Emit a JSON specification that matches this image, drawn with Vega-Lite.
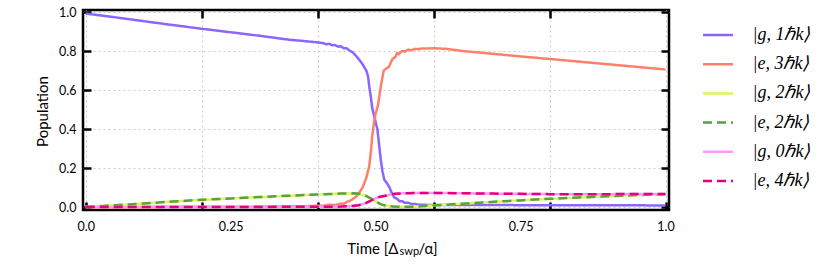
{
  "$schema": "https://vega.github.io/schema/vega-lite/v6.json",
  "width": 586,
  "height": 200,
  "autosize": {"type": "none"},
  "padding": {"left": 83, "top": 10, "right": 161, "bottom": 58},
  "background": "white",
  "config": {
    "view": {"stroke": "black", "strokeWidth": 2.5},
    "font": "Lato",
    "axis": {
      "domain": false,
      "labelFont": "Lato",
      "labelFontSize": 12.5,
      "labelColor": "black",
      "titleFont": "Lato",
      "titleFontWeight": "normal",
      "titleColor": "black",
      "titleFontSize": 15,
      "gridColor": "#c5cfcf",
      "gridDash": [2, 3],
      "gridWidth": 1,
      "gridOpacity": 1,
      "tickColor": "black",
      "tickWidth": 2.5
    }
  },
  "datasets": {
    "curves": [
      {"s": "|g, 1ℏk⟩", "t": 0, "p": 0.993},
      {"s": "|g, 1ℏk⟩", "t": 0.05, "p": 0.974},
      {"s": "|g, 1ℏk⟩", "t": 0.1, "p": 0.954},
      {"s": "|g, 1ℏk⟩", "t": 0.15, "p": 0.934},
      {"s": "|g, 1ℏk⟩", "t": 0.2, "p": 0.915},
      {"s": "|g, 1ℏk⟩", "t": 0.25, "p": 0.897},
      {"s": "|g, 1ℏk⟩", "t": 0.3, "p": 0.879},
      {"s": "|g, 1ℏk⟩", "t": 0.35, "p": 0.859},
      {"s": "|g, 1ℏk⟩", "t": 0.38, "p": 0.851},
      {"s": "|g, 1ℏk⟩", "t": 0.4, "p": 0.845},
      {"s": "|g, 1ℏk⟩", "t": 0.41, "p": 0.841},
      {"s": "|g, 1ℏk⟩", "t": 0.415, "p": 0.835},
      {"s": "|g, 1ℏk⟩", "t": 0.42, "p": 0.838},
      {"s": "|g, 1ℏk⟩", "t": 0.425, "p": 0.83},
      {"s": "|g, 1ℏk⟩", "t": 0.43, "p": 0.832},
      {"s": "|g, 1ℏk⟩", "t": 0.435, "p": 0.823},
      {"s": "|g, 1ℏk⟩", "t": 0.44, "p": 0.825},
      {"s": "|g, 1ℏk⟩", "t": 0.445, "p": 0.815},
      {"s": "|g, 1ℏk⟩", "t": 0.45, "p": 0.815},
      {"s": "|g, 1ℏk⟩", "t": 0.455, "p": 0.803},
      {"s": "|g, 1ℏk⟩", "t": 0.46, "p": 0.795},
      {"s": "|g, 1ℏk⟩", "t": 0.465, "p": 0.78},
      {"s": "|g, 1ℏk⟩", "t": 0.472, "p": 0.755},
      {"s": "|g, 1ℏk⟩", "t": 0.478, "p": 0.73},
      {"s": "|g, 1ℏk⟩", "t": 0.484, "p": 0.7},
      {"s": "|g, 1ℏk⟩", "t": 0.487, "p": 0.67},
      {"s": "|g, 1ℏk⟩", "t": 0.489, "p": 0.62},
      {"s": "|g, 1ℏk⟩", "t": 0.492, "p": 0.56},
      {"s": "|g, 1ℏk⟩", "t": 0.494, "p": 0.51},
      {"s": "|g, 1ℏk⟩", "t": 0.498, "p": 0.46},
      {"s": "|g, 1ℏk⟩", "t": 0.503, "p": 0.4},
      {"s": "|g, 1ℏk⟩", "t": 0.506, "p": 0.32},
      {"s": "|g, 1ℏk⟩", "t": 0.509, "p": 0.24},
      {"s": "|g, 1ℏk⟩", "t": 0.512, "p": 0.18},
      {"s": "|g, 1ℏk⟩", "t": 0.515, "p": 0.14},
      {"s": "|g, 1ℏk⟩", "t": 0.52, "p": 0.12},
      {"s": "|g, 1ℏk⟩", "t": 0.524, "p": 0.1},
      {"s": "|g, 1ℏk⟩", "t": 0.528, "p": 0.07},
      {"s": "|g, 1ℏk⟩", "t": 0.532, "p": 0.05},
      {"s": "|g, 1ℏk⟩", "t": 0.537, "p": 0.042},
      {"s": "|g, 1ℏk⟩", "t": 0.541, "p": 0.03},
      {"s": "|g, 1ℏk⟩", "t": 0.546, "p": 0.03},
      {"s": "|g, 1ℏk⟩", "t": 0.55, "p": 0.022},
      {"s": "|g, 1ℏk⟩", "t": 0.556, "p": 0.022},
      {"s": "|g, 1ℏk⟩", "t": 0.562, "p": 0.016},
      {"s": "|g, 1ℏk⟩", "t": 0.568, "p": 0.016},
      {"s": "|g, 1ℏk⟩", "t": 0.574, "p": 0.012},
      {"s": "|g, 1ℏk⟩", "t": 0.6, "p": 0.01},
      {"s": "|g, 1ℏk⟩", "t": 0.7, "p": 0.01},
      {"s": "|g, 1ℏk⟩", "t": 0.8, "p": 0.009},
      {"s": "|g, 1ℏk⟩", "t": 0.9, "p": 0.009},
      {"s": "|g, 1ℏk⟩", "t": 1.0, "p": 0.008},

      {"s": "|e, 3ℏk⟩", "t": 0, "p": 0.0},
      {"s": "|e, 3ℏk⟩", "t": 0.2, "p": 0.001},
      {"s": "|e, 3ℏk⟩", "t": 0.3, "p": 0.002},
      {"s": "|e, 3ℏk⟩", "t": 0.35, "p": 0.003},
      {"s": "|e, 3ℏk⟩", "t": 0.38, "p": 0.004},
      {"s": "|e, 3ℏk⟩", "t": 0.4, "p": 0.007},
      {"s": "|e, 3ℏk⟩", "t": 0.41, "p": 0.006},
      {"s": "|e, 3ℏk⟩", "t": 0.42, "p": 0.012},
      {"s": "|e, 3ℏk⟩", "t": 0.43, "p": 0.01},
      {"s": "|e, 3ℏk⟩", "t": 0.44, "p": 0.018},
      {"s": "|e, 3ℏk⟩", "t": 0.445, "p": 0.016},
      {"s": "|e, 3ℏk⟩", "t": 0.45, "p": 0.026},
      {"s": "|e, 3ℏk⟩", "t": 0.455, "p": 0.03},
      {"s": "|e, 3ℏk⟩", "t": 0.46, "p": 0.04},
      {"s": "|e, 3ℏk⟩", "t": 0.465, "p": 0.05},
      {"s": "|e, 3ℏk⟩", "t": 0.47, "p": 0.065},
      {"s": "|e, 3ℏk⟩", "t": 0.4775, "p": 0.1},
      {"s": "|e, 3ℏk⟩", "t": 0.484, "p": 0.15},
      {"s": "|e, 3ℏk⟩", "t": 0.489, "p": 0.21},
      {"s": "|e, 3ℏk⟩", "t": 0.492, "p": 0.29},
      {"s": "|e, 3ℏk⟩", "t": 0.494, "p": 0.36},
      {"s": "|e, 3ℏk⟩", "t": 0.497, "p": 0.43},
      {"s": "|e, 3ℏk⟩", "t": 0.5, "p": 0.48},
      {"s": "|e, 3ℏk⟩", "t": 0.504, "p": 0.52},
      {"s": "|e, 3ℏk⟩", "t": 0.507, "p": 0.58},
      {"s": "|e, 3ℏk⟩", "t": 0.509, "p": 0.62},
      {"s": "|e, 3ℏk⟩", "t": 0.512, "p": 0.67},
      {"s": "|e, 3ℏk⟩", "t": 0.514, "p": 0.7},
      {"s": "|e, 3ℏk⟩", "t": 0.518, "p": 0.71},
      {"s": "|e, 3ℏk⟩", "t": 0.523, "p": 0.72},
      {"s": "|e, 3ℏk⟩", "t": 0.526, "p": 0.74},
      {"s": "|e, 3ℏk⟩", "t": 0.529, "p": 0.76},
      {"s": "|e, 3ℏk⟩", "t": 0.532, "p": 0.765},
      {"s": "|e, 3ℏk⟩", "t": 0.535, "p": 0.775},
      {"s": "|e, 3ℏk⟩", "t": 0.537, "p": 0.79},
      {"s": "|e, 3ℏk⟩", "t": 0.54, "p": 0.785},
      {"s": "|e, 3ℏk⟩", "t": 0.545, "p": 0.8},
      {"s": "|e, 3ℏk⟩", "t": 0.551, "p": 0.798},
      {"s": "|e, 3ℏk⟩", "t": 0.556, "p": 0.808},
      {"s": "|e, 3ℏk⟩", "t": 0.562, "p": 0.805},
      {"s": "|e, 3ℏk⟩", "t": 0.568, "p": 0.812},
      {"s": "|e, 3ℏk⟩", "t": 0.574, "p": 0.81},
      {"s": "|e, 3ℏk⟩", "t": 0.58, "p": 0.814},
      {"s": "|e, 3ℏk⟩", "t": 0.59, "p": 0.814},
      {"s": "|e, 3ℏk⟩", "t": 0.6, "p": 0.815},
      {"s": "|e, 3ℏk⟩", "t": 0.62, "p": 0.812},
      {"s": "|e, 3ℏk⟩", "t": 0.65, "p": 0.801},
      {"s": "|e, 3ℏk⟩", "t": 0.7, "p": 0.787},
      {"s": "|e, 3ℏk⟩", "t": 0.75, "p": 0.773},
      {"s": "|e, 3ℏk⟩", "t": 0.8, "p": 0.76},
      {"s": "|e, 3ℏk⟩", "t": 0.9, "p": 0.733},
      {"s": "|e, 3ℏk⟩", "t": 1.0, "p": 0.706},

      {"s": "|g, 2ℏk⟩", "t": 0, "p": 0},
      {"s": "|g, 2ℏk⟩", "t": 0.05, "p": 0.009},
      {"s": "|g, 2ℏk⟩", "t": 0.1, "p": 0.018},
      {"s": "|g, 2ℏk⟩", "t": 0.15, "p": 0.028},
      {"s": "|g, 2ℏk⟩", "t": 0.2, "p": 0.037},
      {"s": "|g, 2ℏk⟩", "t": 0.25, "p": 0.044},
      {"s": "|g, 2ℏk⟩", "t": 0.3, "p": 0.051},
      {"s": "|g, 2ℏk⟩", "t": 0.35, "p": 0.058},
      {"s": "|g, 2ℏk⟩", "t": 0.4, "p": 0.064},
      {"s": "|g, 2ℏk⟩", "t": 0.44, "p": 0.069},
      {"s": "|g, 2ℏk⟩", "t": 0.46, "p": 0.07},
      {"s": "|g, 2ℏk⟩", "t": 0.47, "p": 0.069},
      {"s": "|g, 2ℏk⟩", "t": 0.477, "p": 0.063},
      {"s": "|g, 2ℏk⟩", "t": 0.485, "p": 0.055},
      {"s": "|g, 2ℏk⟩", "t": 0.494, "p": 0.04},
      {"s": "|g, 2ℏk⟩", "t": 0.5, "p": 0.03},
      {"s": "|g, 2ℏk⟩", "t": 0.505, "p": 0.02},
      {"s": "|g, 2ℏk⟩", "t": 0.511, "p": 0.012},
      {"s": "|g, 2ℏk⟩", "t": 0.52, "p": 0.006},
      {"s": "|g, 2ℏk⟩", "t": 0.53, "p": 0.003},
      {"s": "|g, 2ℏk⟩", "t": 0.55, "p": 0.001},
      {"s": "|g, 2ℏk⟩", "t": 0.57, "p": 0.002},
      {"s": "|g, 2ℏk⟩", "t": 0.6, "p": 0.008},
      {"s": "|g, 2ℏk⟩", "t": 0.65, "p": 0.017},
      {"s": "|g, 2ℏk⟩", "t": 0.7, "p": 0.026},
      {"s": "|g, 2ℏk⟩", "t": 0.75, "p": 0.034},
      {"s": "|g, 2ℏk⟩", "t": 0.8, "p": 0.042},
      {"s": "|g, 2ℏk⟩", "t": 0.85, "p": 0.049},
      {"s": "|g, 2ℏk⟩", "t": 0.9, "p": 0.055},
      {"s": "|g, 2ℏk⟩", "t": 0.95, "p": 0.061},
      {"s": "|g, 2ℏk⟩", "t": 1.0, "p": 0.066},

      {"s": "|e, 2ℏk⟩", "t": 0, "p": 0},
      {"s": "|e, 2ℏk⟩", "t": 0.05, "p": 0.009},
      {"s": "|e, 2ℏk⟩", "t": 0.1, "p": 0.018},
      {"s": "|e, 2ℏk⟩", "t": 0.15, "p": 0.028},
      {"s": "|e, 2ℏk⟩", "t": 0.2, "p": 0.037},
      {"s": "|e, 2ℏk⟩", "t": 0.25, "p": 0.044},
      {"s": "|e, 2ℏk⟩", "t": 0.3, "p": 0.051},
      {"s": "|e, 2ℏk⟩", "t": 0.35, "p": 0.058},
      {"s": "|e, 2ℏk⟩", "t": 0.4, "p": 0.064},
      {"s": "|e, 2ℏk⟩", "t": 0.44, "p": 0.069},
      {"s": "|e, 2ℏk⟩", "t": 0.46, "p": 0.07},
      {"s": "|e, 2ℏk⟩", "t": 0.47, "p": 0.069},
      {"s": "|e, 2ℏk⟩", "t": 0.477, "p": 0.063},
      {"s": "|e, 2ℏk⟩", "t": 0.485, "p": 0.055},
      {"s": "|e, 2ℏk⟩", "t": 0.494, "p": 0.04},
      {"s": "|e, 2ℏk⟩", "t": 0.5, "p": 0.03},
      {"s": "|e, 2ℏk⟩", "t": 0.505, "p": 0.02},
      {"s": "|e, 2ℏk⟩", "t": 0.511, "p": 0.012},
      {"s": "|e, 2ℏk⟩", "t": 0.52, "p": 0.006},
      {"s": "|e, 2ℏk⟩", "t": 0.53, "p": 0.003},
      {"s": "|e, 2ℏk⟩", "t": 0.55, "p": 0.001},
      {"s": "|e, 2ℏk⟩", "t": 0.57, "p": 0.002},
      {"s": "|e, 2ℏk⟩", "t": 0.6, "p": 0.008},
      {"s": "|e, 2ℏk⟩", "t": 0.65, "p": 0.017},
      {"s": "|e, 2ℏk⟩", "t": 0.7, "p": 0.026},
      {"s": "|e, 2ℏk⟩", "t": 0.75, "p": 0.034},
      {"s": "|e, 2ℏk⟩", "t": 0.8, "p": 0.042},
      {"s": "|e, 2ℏk⟩", "t": 0.85, "p": 0.049},
      {"s": "|e, 2ℏk⟩", "t": 0.9, "p": 0.055},
      {"s": "|e, 2ℏk⟩", "t": 0.95, "p": 0.061},
      {"s": "|e, 2ℏk⟩", "t": 1.0, "p": 0.066},

      {"s": "|g, 0ℏk⟩", "t": 0, "p": 0},
      {"s": "|g, 0ℏk⟩", "t": 0.2, "p": 0},
      {"s": "|g, 0ℏk⟩", "t": 0.4, "p": 0.001},
      {"s": "|g, 0ℏk⟩", "t": 0.44, "p": 0.002},
      {"s": "|g, 0ℏk⟩", "t": 0.46, "p": 0.005},
      {"s": "|g, 0ℏk⟩", "t": 0.47, "p": 0.009},
      {"s": "|g, 0ℏk⟩", "t": 0.478, "p": 0.014},
      {"s": "|g, 0ℏk⟩", "t": 0.483, "p": 0.02},
      {"s": "|g, 0ℏk⟩", "t": 0.49, "p": 0.03},
      {"s": "|g, 0ℏk⟩", "t": 0.5, "p": 0.045},
      {"s": "|g, 0ℏk⟩", "t": 0.508, "p": 0.053},
      {"s": "|g, 0ℏk⟩", "t": 0.517, "p": 0.058},
      {"s": "|g, 0ℏk⟩", "t": 0.525, "p": 0.064},
      {"s": "|g, 0ℏk⟩", "t": 0.534, "p": 0.068},
      {"s": "|g, 0ℏk⟩", "t": 0.55, "p": 0.071},
      {"s": "|g, 0ℏk⟩", "t": 0.6, "p": 0.072},
      {"s": "|g, 0ℏk⟩", "t": 0.7, "p": 0.069},
      {"s": "|g, 0ℏk⟩", "t": 0.8, "p": 0.066},
      {"s": "|g, 0ℏk⟩", "t": 0.9, "p": 0.066},
      {"s": "|g, 0ℏk⟩", "t": 1.0, "p": 0.067},

      {"s": "|e, 4ℏk⟩", "t": 0, "p": 0},
      {"s": "|e, 4ℏk⟩", "t": 0.2, "p": 0},
      {"s": "|e, 4ℏk⟩", "t": 0.4, "p": 0.001},
      {"s": "|e, 4ℏk⟩", "t": 0.44, "p": 0.002},
      {"s": "|e, 4ℏk⟩", "t": 0.46, "p": 0.005},
      {"s": "|e, 4ℏk⟩", "t": 0.47, "p": 0.009},
      {"s": "|e, 4ℏk⟩", "t": 0.478, "p": 0.014},
      {"s": "|e, 4ℏk⟩", "t": 0.483, "p": 0.02},
      {"s": "|e, 4ℏk⟩", "t": 0.49, "p": 0.03},
      {"s": "|e, 4ℏk⟩", "t": 0.5, "p": 0.045},
      {"s": "|e, 4ℏk⟩", "t": 0.508, "p": 0.053},
      {"s": "|e, 4ℏk⟩", "t": 0.517, "p": 0.058},
      {"s": "|e, 4ℏk⟩", "t": 0.525, "p": 0.064},
      {"s": "|e, 4ℏk⟩", "t": 0.534, "p": 0.068},
      {"s": "|e, 4ℏk⟩", "t": 0.55, "p": 0.071},
      {"s": "|e, 4ℏk⟩", "t": 0.6, "p": 0.072},
      {"s": "|e, 4ℏk⟩", "t": 0.7, "p": 0.069},
      {"s": "|e, 4ℏk⟩", "t": 0.8, "p": 0.066},
      {"s": "|e, 4ℏk⟩", "t": 0.9, "p": 0.066},
      {"s": "|e, 4ℏk⟩", "t": 1.0, "p": 0.067}
    ]
  },
  "data": {"name": "curves"},
  "resolve": {"axis": {"x": "independent", "y": "independent"}},
  "layer": [
    {
      "mark": {"type": "line", "strokeWidth": 2.5, "strokeCap": "butt"},
      "encoding": {
        "x": {
          "field": "t", "type": "quantitative",
          "scale": {"domain": [-0.0047, 1.006], "nice": false, "zero": false},
          "axis": {
            "orient": "bottom", "values": [0, 0.25, 0.5, 0.75, 1],
            "labelExpr": "datum.value == 0 ? '0.0' : datum.value == 1 ? '1.0' : format(datum.value, '.2f')",
            "ticks": false, "grid": false, "labelPadding": 10, "labelFlush": false,
            "title": "Time  [Δ", "titleAlign": "right", "titleX": 315, "titleY": 43,
            "titleBaseline": "alphabetic"
          }
        },
        "y": {
          "field": "p", "type": "quantitative",
          "scale": {"domain": [-0.0154, 1.0113], "nice": false, "zero": false},
          "axis": {
            "orient": "left", "values": [0, 0.2, 0.4, 0.6, 0.8, 1], "format": ".1f",
            "ticks": false, "grid": true, "labelPadding": 7,
            "title": "Population", "titleX": -36, "titleY": 101, "titleAngle": -90,
            "titleAlign": "center", "titleBaseline": "alphabetic"
          }
        },
        "color": {
          "field": "s", "type": "nominal",
          "scale": {
            "domain": ["|g, 1ℏk⟩", "|e, 3ℏk⟩", "|g, 2ℏk⟩", "|e, 2ℏk⟩", "|g, 0ℏk⟩", "|e, 4ℏk⟩"],
            "range": ["#8c64ff", "#ff8068", "#ddf55a", "#5aa046", "#ff99f7", "#e6007a"]
          },
          "legend": {
            "orient": "none", "legendX": 618.5, "legendY": 8.5, "title": null,
            "symbolType": "stroke", "symbolSize": 900, "symbolStrokeWidth": 2.5,
            "labelFont": "Liberation Serif", "labelFontStyle": "italic", "labelFontSize": 18,
            "labelColor": "black", "labelOffset": 18, "rowPadding": 3.2, "padding": 0
          }
        },
        "strokeDash": {
          "field": "s", "type": "nominal",
          "scale": {
            "domain": ["|g, 1ℏk⟩", "|e, 3ℏk⟩", "|g, 2ℏk⟩", "|e, 2ℏk⟩", "|g, 0ℏk⟩", "|e, 4ℏk⟩"],
            "range": [[1, 0], [1, 0], [1, 0], [9, 5], [1, 0], [9, 5]]
          },
          "legend": {
            "orient": "none", "legendX": 618.5, "legendY": 8.5, "title": null,
            "symbolType": "stroke", "symbolSize": 900, "symbolStrokeWidth": 2.5,
            "labelFont": "Liberation Serif", "labelFontStyle": "italic", "labelFontSize": 18,
            "labelColor": "black", "labelOffset": 18, "rowPadding": 3.2, "padding": 0
          }
        }
      }
    },
    {
      "mark": {"type": "point", "opacity": 0, "size": 1},
      "encoding": {
        "x": {
          "field": "t", "type": "quantitative",
          "axis": {
            "orient": "bottom", "values": [0, 0.2, 0.4, 0.6, 0.8, 1], "labels": false, "grid": true,
            "tickSize": -8, "tickOpacity": 1,
            "title": "swp", "titleFontSize": 11, "titleAlign": "left", "titleX": 316, "titleY": 44,
            "titleBaseline": "alphabetic"
          }
        },
        "y": {
          "field": "p", "type": "quantitative",
          "axis": {
            "orient": "left", "values": [0, 0.2, 0.4, 0.6, 0.8, 1], "labels": false, "grid": false,
            "tickSize": -8, "title": null
          }
        }
      }
    },
    {
      "mark": {"type": "point", "opacity": 0, "size": 1},
      "encoding": {
        "x": {
          "field": "t", "type": "quantitative",
          "axis": {
            "orient": "top", "values": [0.2, 0.4, 0.6, 0.8], "labels": false, "grid": false,
            "tickSize": -8,
            "title": "/α]", "titleAlign": "left", "titleX": 335, "titleY": 243,
            "titleBaseline": "alphabetic"
          }
        },
        "y": {
          "field": "p", "type": "quantitative",
          "axis": {
            "orient": "right", "values": [0, 0.2, 0.4, 0.6, 0.8, 1], "labels": false, "grid": false,
            "tickSize": -8, "title": null
          }
        }
      }
    }
  ]
}
